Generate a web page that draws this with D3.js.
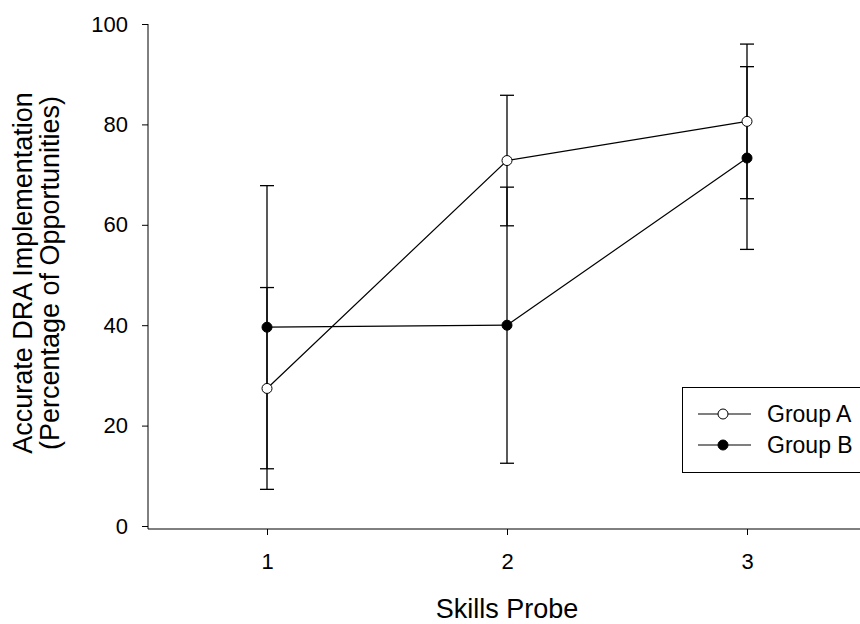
<!DOCTYPE html>
<html><head><meta charset="utf-8">
<script src="https://cdn.jsdelivr.net/npm/d3@7"></script>
<style>body{margin:0;background:#fff}svg{display:block}text{font-family:"Liberation Sans",Arial,sans-serif;fill:#000}</style>
</head><body><svg id="c" width="860" height="624"></svg>
<script>
const probes = [1, 2, 3];
const groupA = [27.4, 72.8, 80.6];
const groupAErr = [20.1, 13.0, 15.4];
const groupB = [39.6, 40.0, 73.3];
const groupBErr = [28.2, 27.5, 18.2];
const yTicks = [0, 20, 40, 60, 80, 100];
const seriesNames = ["Group A", "Group B"];

const svg = d3.select("#c");
const x = d3.scaleLinear().domain([0.5, 3.5]).range([147, 867]);
const y = d3.scaleLinear().domain([0, 100]).range([526, 24]);
const axisY = 529;
const tickFont = "22px";

// axes
const ya = svg.append("g").attr("transform", "translate(148,0)")
  .call(d3.axisLeft(y).tickValues(yTicks).tickSize(6).tickPadding(14).tickSizeOuter(0));
ya.select(".domain").remove();
ya.append("line").attr("x1",0).attr("x2",0).attr("y1",y(100)).attr("y2",axisY).attr("stroke","#000");
ya.selectAll("text").style("font-size",tickFont).style("fill","#000");
ya.attr("font-size",null).attr("font-family",null);

const xa = svg.append("g").attr("transform", `translate(0,${axisY})`)
  .call(d3.axisBottom(x).tickValues(probes).tickFormat(d3.format("d")).tickSize(6).tickPadding(18).tickSizeOuter(0));
xa.select(".domain").remove();
xa.append("line").attr("x1",148).attr("x2",860).attr("y1",0).attr("y2",0).attr("stroke","#000");
xa.selectAll("text").style("font-size",tickFont).style("fill","#000");
xa.attr("font-size",null).attr("font-family",null);

svg.append("text").attr("x", 507).attr("y", 618).attr("text-anchor","middle").style("font-size","27px").text("Skills Probe");
const yl = svg.append("text").attr("transform","translate(0,273) rotate(-90)").attr("text-anchor","middle").style("font-size","27px");
yl.append("tspan").attr("x",0).attr("y",32).text("Accurate DRA Implementation");
yl.append("tspan").attr("x",0).attr("y",59).text("(Percentage of Opportunities)");

function drawSeries(vals, errs) {
  const g = svg.append("g");
  g.selectAll("line.eb").data(probes).join("line")
    .attr("x1", d => x(d)).attr("x2", d => x(d))
    .attr("y1", (d,i) => y(vals[i] + errs[i])).attr("y2", (d,i) => y(vals[i] - errs[i]))
    .attr("stroke","#000").attr("stroke-width",1.3);
  [1,-1].forEach(s => {
    g.selectAll("line.cap"+(s>0?"u":"d")).data(probes).join("line")
      .attr("class","cap"+(s>0?"u":"d"))
      .attr("x1", d => x(d) - 7).attr("x2", d => x(d) + 7)
      .attr("y1", (d,i) => y(vals[i] + s*errs[i])).attr("y2", (d,i) => y(vals[i] + s*errs[i]))
      .attr("stroke","#000").attr("stroke-width",1.3);
  });
}
drawSeries(groupA, groupAErr);
drawSeries(groupB, groupBErr);
const line = d3.line().x(d => x(d[0])).y(d => y(d[1]));
svg.append("path").attr("d", line(probes.map((p,i)=>[p,groupA[i]]))).attr("fill","none").attr("stroke","#000").attr("stroke-width",1.2);
svg.append("path").attr("d", line(probes.map((p,i)=>[p,groupB[i]]))).attr("fill","none").attr("stroke","#000").attr("stroke-width",1.2);
svg.selectAll("circle.a").data(probes).join("circle").attr("class","a").attr("cx", d=>x(d)).attr("cy",(d,i)=>y(groupA[i])).attr("r",5).attr("fill","#fff").attr("stroke","#000");
svg.selectAll("circle.b").data(probes).join("circle").attr("class","b").attr("cx", d=>x(d)).attr("cy",(d,i)=>y(groupB[i])).attr("r",5).attr("fill","#000").attr("stroke","#000");

// legend
const lg = svg.append("g");
lg.append("rect").attr("x",682.5).attr("y",387.5).attr("width",190).attr("height",85).attr("fill","#fff").attr("stroke","#000");
seriesNames.forEach((n,i) => {
  const yy = 414 + i*31;
  lg.append("line").attr("x1",698).attr("x2",751).attr("y1",yy).attr("y2",yy).attr("stroke","#000").attr("stroke-width",1.2);
  lg.append("circle").attr("cx",723).attr("cy",yy).attr("r",5).attr("fill", i===0?"#fff":"#000").attr("stroke","#000");
  lg.append("text").attr("x",767).attr("y",yy+8).style("font-size","23px").text(n);
});
</script></body></html>
